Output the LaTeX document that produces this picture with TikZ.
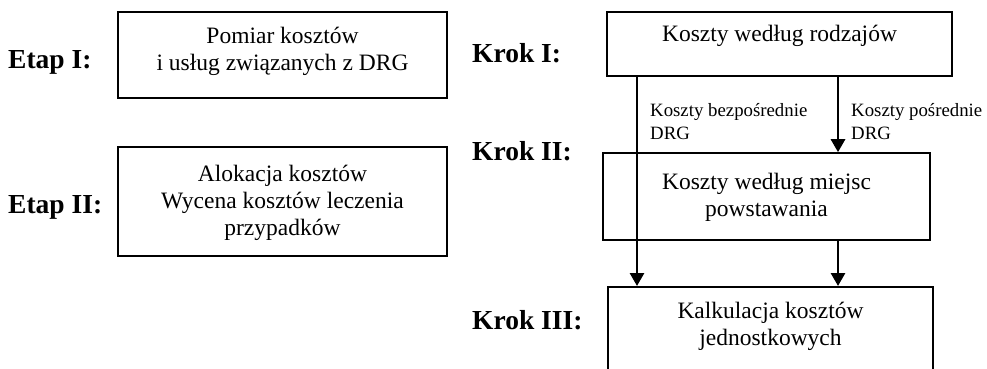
\documentclass[tikz,border=0pt]{standalone}
\usepackage{fontspec}
\setmainfont{Liberation Serif}
\usetikzlibrary{positioning, arrows.meta}
\tikzset{strzalka/.style={line width=2.8pt, -{Triangle[length=13pt,width=14pt]}}}

\begin{document}
\begin{tikzpicture}[
            x = 1pt, y = -1pt,
            ramka/.style={draw, line width=1.6pt, inner sep=0pt},
            tekst/.style={align=center, inner sep=0pt, font=\fontsize{23.5}{27}\selectfont},
            etap/.style={anchor=base west, inner sep=0pt, font=\fontsize{27.5}{30}\selectfont\bfseries},
            opis/.style={anchor=north west, align=left, inner sep=0pt, font=\fontsize{18.8}{23}\selectfont}
        ]
            \useasboundingbox (0,0) rectangle (987,369);

            % lewa kolumna
            \node[ramka, minimum width=329pt, minimum height=86pt] (etap1) at (282.5,55) {};
            \node[tekst, below=16pt of etap1.north] (etap1t) {Pomiar kosztów\\i usług związanych z DRG};
            \node[ramka, minimum width=329pt, minimum height=109pt] (etap2) at (282.5,201.5) {};
            \node[tekst, below=19pt of etap2.north] (etap2t) {Alokacja kosztów\\Wycena kosztów leczenia\\przypadków};
            \node[etap] (e1) at (8,68) {Etap I:};
            \node[etap] (e2) at (8,213) {Etap II:};

            % prawa kolumna
            \node[ramka, minimum width=345pt, minimum height=64pt] (krok1) at (779.5,44) {};
            \node[tekst, below=14pt of krok1.north] (krok1t) {Koszty według rodzajów};
            \node[ramka, minimum width=327pt, minimum height=87pt] (krok2) at (766.5,196.5) {};
            \node[tekst, below=21pt of krok2.north] (krok2t) {Koszty według miejsc\\powstawania};
            \node[ramka, minimum width=325pt, minimum height=150pt, anchor=north] (krok3) at (770.5,286) {};
            \node[tekst, below=16pt of krok3.north] (krok3t) {Kalkulacja kosztów\\jednostkowych};
            \node[etap] (k1) at (472,63) {Krok I:};
            \node[etap] (k2) at (472,160) {Krok II:};
            \node[etap] (k3) at (472,329) {Krok III:};

            \coordinate (lewa) at (637,0);
            \coordinate (prawa) at (838,0);
            \draw[strzalka] (krok1.south -| lewa) -- (krok3.north -| lewa);
            \draw[strzalka] (krok1.south -| prawa) -- (krok2.north -| prawa);
            \draw[strzalka] (krok2.south -| prawa) -- (krok3.north -| prawa);
            \node[opis] (o1) at (650,103) {Koszty bezpośrednie\\DRG};
            \node[opis] (o2) at (851,103) {Koszty pośrednie\\DRG};
        \end{tikzpicture}
\end{document}
